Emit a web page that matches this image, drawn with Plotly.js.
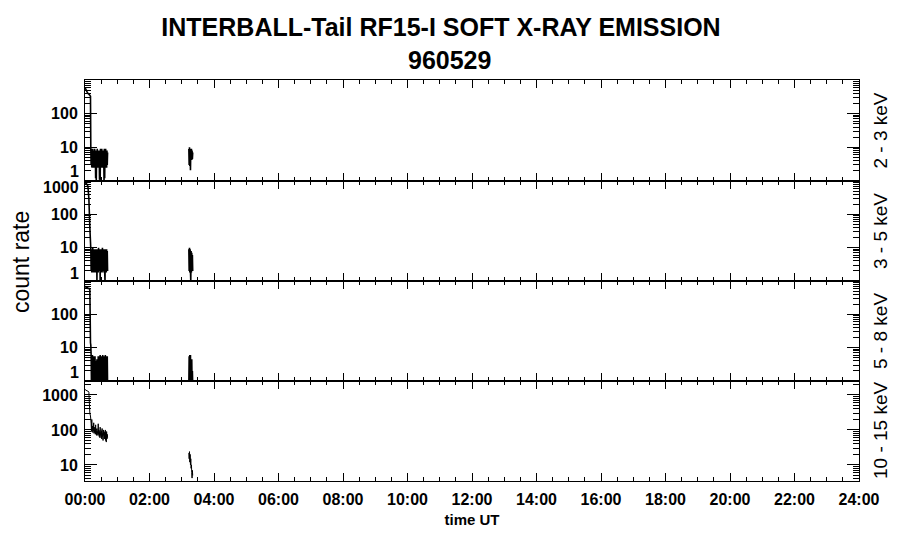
<!DOCTYPE html>
<html>
<head>
<meta charset="utf-8">
<script src="https://cdn.plot.ly/plotly-3.0.1.min.js"></script>
<style>html,body{margin:0;padding:0;background:#fff;}#chart{width:900px;height:548px;}</style>
</head>
<body>
<div id="chart"></div>
<script>
// ---- data (time in hours UT, count rates) ----
const timeUT = [
  0.00, 0.03, 0.06, 0.09, 0.12, 0.15, 0.17, 0.18,
  0.19, 0.20, 0.21, 0.22, 0.23, 0.24, 0.25, 0.26, 0.27, 0.28, 0.29,
  0.30, 0.31, 0.32, 0.33, 0.34, 0.35, 0.36, 0.37, 0.38, 0.39,
  0.40, 0.41, 0.42, 0.43, 0.44, 0.45, 0.46, 0.47, 0.48, 0.49,
  0.50, 0.51, 0.52, 0.53, 0.54, 0.55, 0.56, 0.57, 0.58, 0.59,
  0.60, 0.61, 0.62, 0.63, 0.64, 0.65, 0.66, 0.67, 0.68, 0.69, 0.70,
  1.80,
  3.22, 3.23, 3.24, 3.25, 3.26, 3.27, 3.28, 3.29, 3.30, 3.31, 3.32, 3.33, 3.34
];
const rate2to3keV = [
  600, 520, 450, 400, 380, 350, 330, 9,
  3, 9, 2.5, 8, 2.5, 9, 3, 8, 2.5, 8, 3,
  9, 2.5, 8, 1.2, 7, 1, 8, 2.5, 9, 3,
  8, 2.5, 7, 3, 8, 1.1, 8, 1, 9, 2.5,
  8, 3, 9, 2.5, 8, 3, 7, 2.5, 8, 1,
  9, 1.2, 8, 2.5, 9, 3, 8, 2.5, 8, 3, 7,
  null,
  9, 3, 10, 2.8, 9, 2.1, 8, 4.5, 9, 4.2, 8, 4.5, 7
];
const rate3to5keV = [
  900, 850, 800, 700, 300, 40, 15, 9,
  2, 9, 1.8, 8, 2, 10, 1.8, 9, 2, 8, 1.8,
  9, 2, 8, 1.8, 9, 2, 8, 1, 9, 2,
  8, 1.8, 10, 2, 9, 2, 8, 1, 9, 1.8,
  8, 2, 9, 1.8, 10, 2, 8, 2, 9, 1.8,
  8, 2, 1, 9, 2, 8, 1.8, 9, 2, 8, 2,
  null,
  9, 2, 10, 1.8, 9, 2, 1, 8, 1.8, 7, 2, 6, 2
];
const rate5to8keV = [
  700, 650, 650, 600, 600, 550, 14, 12,
  6, 0.8, 5.5, 0.8, 6, 0.8, 5.5, 0.8, 5, 0.8, 5.5,
  0.8, 5.5, 0.8, 4, 0.8, 4, 0.8, 4.5, 0.8, 4,
  0.8, 5.5, 0.8, 5.5, 0.8, 5, 0.8, 6, 0.8, 5.5,
  0.8, 5.5, 0.8, 5, 0.8, 6, 0.8, 5.5, 0.8, 5.5,
  0.8, 5.5, 0.8, 6, 0.8, 5.5, 0.8, 5, 0.8, 5.5, 0.8,
  null,
  0.8, 5.5, 0.8, 6, 0.8, 6, 0.8, 4.5, 0.8, 4.5, 0.8, 2, 0.8
];
const rate10to15keV = [
  1400, 1400, 1300, 1300, 1200, 300, 250, 200,
  150, 90, 200, 100, 130, 85, 110, 95, 160, 80, 120,
  85, 100, 75, 140, 80, 95, 70, 110, 80, 90,
  70, 150, 75, 100, 65, 90, 60, 120, 70, 85,
  60, 95, 55, 110, 65, 80, 50, 100, 70, 90,
  55, 85, 60, 100, 50, 80, 45, 90, 55, 75, 60,
  null,
  22, 15, 24, 12, 20, 10, 15, 8, 10, 6, 4.2, 7, 5
];
const bandLabels = ['2 - 3 keV', '3 - 5 keV', '5 - 8 keV', '10 - 15 keV'];
const timeTickVals = [0, 2, 4, 6, 8, 10, 12, 14, 16, 18, 20, 22, 24];
const timeTickText = ['00:00','02:00','04:00','06:00','08:00','10:00','12:00','14:00','16:00','18:00','20:00','22:00','24:00'];
const panelRanges = [[0, 3], [0, 3], [0, 3], [0.54, 3.4]];
const panelTickText = [
  ['', '10', '100', ''],
  ['', '10', '100', ''],
  ['', '10', '100', ''],
  ['1', '10', '100', '1000']
];
const rateTickVals = [1, 10, 100, 1000];

// ---- styling helpers ----
const FONT = '"Liberation Sans", Arial, Helvetica, sans-serif';
const minorY = [];
[1, 10, 100, 1000].forEach(d => { for (let k = 2; k <= 9; k++) minorY.push(k * d); });
const minorX = [];
for (let h = 0; h <= 24; h += 0.5) if (h % 2 !== 0) minorX.push(h);

const series = [rate2to3keV, rate3to5keV, rate5to8keV, rate10to15keV];
const traces = series.map((vals, i) => ({
  x: timeUT, y: vals, type: 'scatter', mode: 'lines',
  line: {color: '#000', width: i === 3 ? 1 : 1.6, simplify: false}, connectgaps: false,
  xaxis: i === 0 ? 'x' : 'x' + (i + 1),
  yaxis: i === 0 ? 'y' : 'y' + (i + 1),
  hoverinfo: 'skip', showlegend: false
}));

// panel boundaries (paper fractions, top to bottom)
const bounds = [[0.7481, 1], [0.4988, 0.7481], [0.2494, 0.4988], [0, 0.2494]];

const layout = {
  width: 900, height: 548,
  margin: {l: 85, r: 41, t: 80, b: 67, pad: 0},
  paper_bgcolor: '#fff', plot_bgcolor: '#fff',
  showlegend: false,
  font: {family: FONT, color: '#000'},
  title: {
    text: 'INTERBALL-Tail RF15-I SOFT X-RAY EMISSION',
    font: {family: FONT, size: 25, weight: 'bold', color: '#000'},
    x: 441 / 900, xanchor: 'center', xref: 'container',
    y: 1 - 27 / 548, yanchor: 'middle', yref: 'container'
  },
  annotations: []
};

for (let i = 0; i < 4; i++) {
  const xk = i === 0 ? 'xaxis' : 'xaxis' + (i + 1);
  const yk = i === 0 ? 'yaxis' : 'yaxis' + (i + 1);
  const yid = i === 0 ? 'y' : 'y' + (i + 1);
  layout[xk] = {
    domain: [0, 1], anchor: yid, range: [0, 24],
    showline: true, linecolor: '#000', linewidth: 1, mirror: 'ticks',
    ticks: 'inside', ticklen: 8, tickwidth: 1, tickcolor: '#000',
    tickmode: 'array', tickvals: timeTickVals, ticktext: timeTickText,
    showticklabels: i === 3,
    tickfont: {family: FONT, size: 16, weight: 'bold', color: '#000'},
    ticklabelstandoff: 4,
    minor: {tickmode: 'array', tickvals: minorX, ticks: 'inside', ticklen: 4, tickwidth: 1, tickcolor: '#000', showgrid: false},
    showgrid: false, zeroline: false, fixedrange: true
  };
  if (i === 3) {
    layout[xk].title = {text: 'time UT', font: {family: FONT, size: 15, weight: 'bold', color: '#000'}, standoff: 7};
  }
  layout[yk] = {
    domain: bounds[i], anchor: i === 0 ? 'x' : 'x' + (i + 1),
    type: 'log', range: panelRanges[i],
    showline: true, linecolor: '#000', linewidth: 1, mirror: 'ticks',
    ticks: 'inside', ticklen: 12, tickwidth: 1, tickcolor: '#000',
    tickmode: 'array', tickvals: rateTickVals, ticktext: panelTickText[i],
    tickfont: {family: FONT, size: 16, weight: 'bold', color: '#000'},
    ticklabelstandoff: 3,
    minor: {tickmode: 'array', tickvals: minorY, ticks: 'inside', ticklen: 6, tickwidth: 1, tickcolor: '#000', showgrid: false},
    showgrid: false, zeroline: false, fixedrange: true
  };
  // band label on the right
  layout.annotations.push({
    text: bandLabels[i], xref: 'paper', yref: 'paper',
    x: 1, xshift: 22, xanchor: 'center',
    y: (bounds[i][0] + bounds[i][1]) / 2, yanchor: 'middle',
    textangle: -90, showarrow: false,
    font: {family: FONT, size: 19, color: '#000'}
  });
}

// boundary tick labels, nudged inside their panel as in the original
const edgeLabels = [
  {text: '1', axis: 'y', y: 0, shift: 10},
  {text: '1', axis: 'y2', y: 0, shift: 7},
  {text: '1000', axis: 'y2', y: 3, shift: -6},
  {text: '1', axis: 'y3', y: 0, shift: 8}
];
edgeLabels.forEach(e => layout.annotations.push({
  text: e.text, xref: 'paper', yref: e.axis, x: 0, xanchor: 'right', xshift: -4,
  y: e.y, yanchor: 'middle', yshift: e.shift, showarrow: false,
  font: {family: FONT, size: 16, weight: 'bold', color: '#000'}
}));

layout.annotations.push({
  text: '960529', xref: 'paper', yref: 'paper',
  x: (449 - 85) / 774, xanchor: 'center',
  y: 1 + (80 - 60) / 401, yanchor: 'middle', showarrow: false,
  font: {family: FONT, size: 25, weight: 'bold', color: '#000'}
});
layout.annotations.push({
  text: 'count rate', xref: 'paper', yref: 'paper',
  x: 0, xshift: -64, xanchor: 'center',
  y: 1 - (262 - 80) / 401, yanchor: 'middle', textangle: -90, showarrow: false,
  font: {family: FONT, size: 23, color: '#000'}
});

Plotly.newPlot('chart', traces, layout, {staticPlot: true, displayModeBar: false});
</script>
</body>
</html>
